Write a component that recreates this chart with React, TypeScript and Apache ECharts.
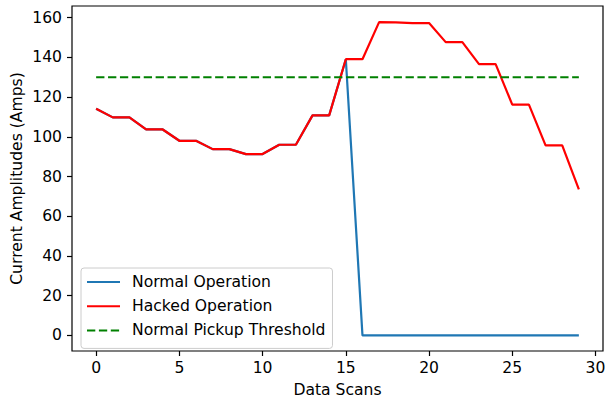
import React, { useEffect, useRef } from "react";
import * as echarts from "echarts";

const scans: number[] = Array.from({ length: 30 }, (_, i) => i);
const hackedValues: number[] = [
  114.1, 109.8, 109.8, 103.7, 103.7, 98.0, 98.0, 93.8, 93.8, 91.3,
  91.3, 96.0, 96.0, 110.8, 110.8, 139.1, 139.1, 157.8, 157.7, 157.3,
  157.3, 147.7, 147.7, 136.6, 136.6, 116.2, 116.2, 95.7, 95.7, 73.5,
];
const normalValues: number[] = [
  114.1, 109.8, 109.8, 103.7, 103.7, 98.0, 98.0, 93.8, 93.8, 91.3,
  91.3, 96.0, 96.0, 110.8, 110.8, 139.1, 0, 0, 0, 0,
  0, 0, 0, 0, 0, 0, 0, 0, 0, 0,
];
const thresholdValue = 130;
const xTicks: number[] = [0, 5, 10, 15, 20, 25, 30];
const yTicks: number[] = [0, 20, 40, 60, 80, 100, 120, 140, 160];
const seriesNames: string[] = ["Normal Operation", "Hacked Operation", "Normal Pickup Threshold"];

const FONT = "DejaVu Sans";
const FS = 15.6;

export default function App() {
  const ref = useRef<HTMLDivElement>(null);
  useEffect(() => {
    if (!ref.current) return;
    const chart = echarts.init(ref.current, undefined, { renderer: "svg" });
    const toPairs = (vals: number[]) => vals.map((v, i) => [scans[i], v]);
    chart.setOption({
      animation: false,
      backgroundColor: "#ffffff",
      textStyle: { fontFamily: FONT },
      grid: {
        left: 72,
        right: 2,
        top: 6,
        bottom: 49,
        containLabel: false,
        outerBoundsMode: "none",
        show: true,
        borderColor: "#000000",
        borderWidth: 1.2,
        backgroundColor: "transparent",
      },
      xAxis: {
        type: "value",
        min: -1.45,
        max: 30.45,
        name: "Data Scans",
        nameLocation: "middle",
        nameGap: 31,
        nameMoveOverlap: false,
        nameTextStyle: { fontSize: FS, color: "#000", fontFamily: FONT },
        axisLine: { show: false, onZero: false },
        splitLine: { show: false },
        axisTick: {
          show: true,
          inside: false,
          length: 5,
          lineStyle: { color: "#000", width: 1.2 },
          customValues: xTicks,
        },
        axisLabel: {
          fontSize: FS,
          color: "#000",
          margin: 9,
          fontFamily: FONT,
          customValues: xTicks,
        },
      },
      yAxis: {
        type: "value",
        min: -7.9,
        max: 165.9,
        name: "Current Amplitudes (Amps)",
        nameLocation: "middle",
        nameGap: 47,
        nameMoveOverlap: false,
        nameTextStyle: { fontSize: FS, color: "#000", fontFamily: FONT },
        axisLine: { show: false, onZero: false },
        splitLine: { show: false },
        axisTick: {
          show: true,
          inside: false,
          length: 5,
          lineStyle: { color: "#000", width: 1.2 },
          customValues: yTicks,
        },
        axisLabel: {
          fontSize: FS,
          color: "#000",
          margin: 10,
          fontFamily: FONT,
          customValues: yTicks,
        },
      },
      legend: {
        orient: "vertical",
        left: 81,
        top: 268,
        data: seriesNames,
        itemWidth: 33,
        itemHeight: 14,
        itemGap: 8.2,
        padding: [6, 7, 10, 5],
        backgroundColor: "rgba(255,255,255,0.8)",
        borderColor: "#cccccc",
        borderWidth: 1,
        borderRadius: 3,
        itemStyle: { opacity: 0 },
        textStyle: {
          fontSize: FS,
          color: "#000",
          fontFamily: FONT,
          lineHeight: 14,
          padding: [0, 0, 0, 7],
        },
      },
      series: [
        {
          name: seriesNames[0],
          type: "line",
          data: toPairs(normalValues),
          symbol: "none",
          lineStyle: { color: "#1f77b4", width: 2.2 },
          itemStyle: { color: "#1f77b4" },
          z: 2,
        },
        {
          name: seriesNames[1],
          type: "line",
          data: toPairs(hackedValues),
          symbol: "none",
          lineStyle: { color: "#ff0000", width: 2.2 },
          itemStyle: { color: "#ff0000" },
          z: 3,
        },
        {
          name: seriesNames[2],
          type: "line",
          data: toPairs(scans.map(() => thresholdValue)),
          symbol: "none",
          lineStyle: { color: "#008000", width: 2.2, type: [8.3, 3.6] },
          itemStyle: { color: "#008000" },
          z: 4,
        },
      ],
    });
    return () => chart.dispose();
  }, []);
  return <div ref={ref} style={{ width: 605, height: 400, position: "absolute", left: 0, top: 0 }} />;
}
